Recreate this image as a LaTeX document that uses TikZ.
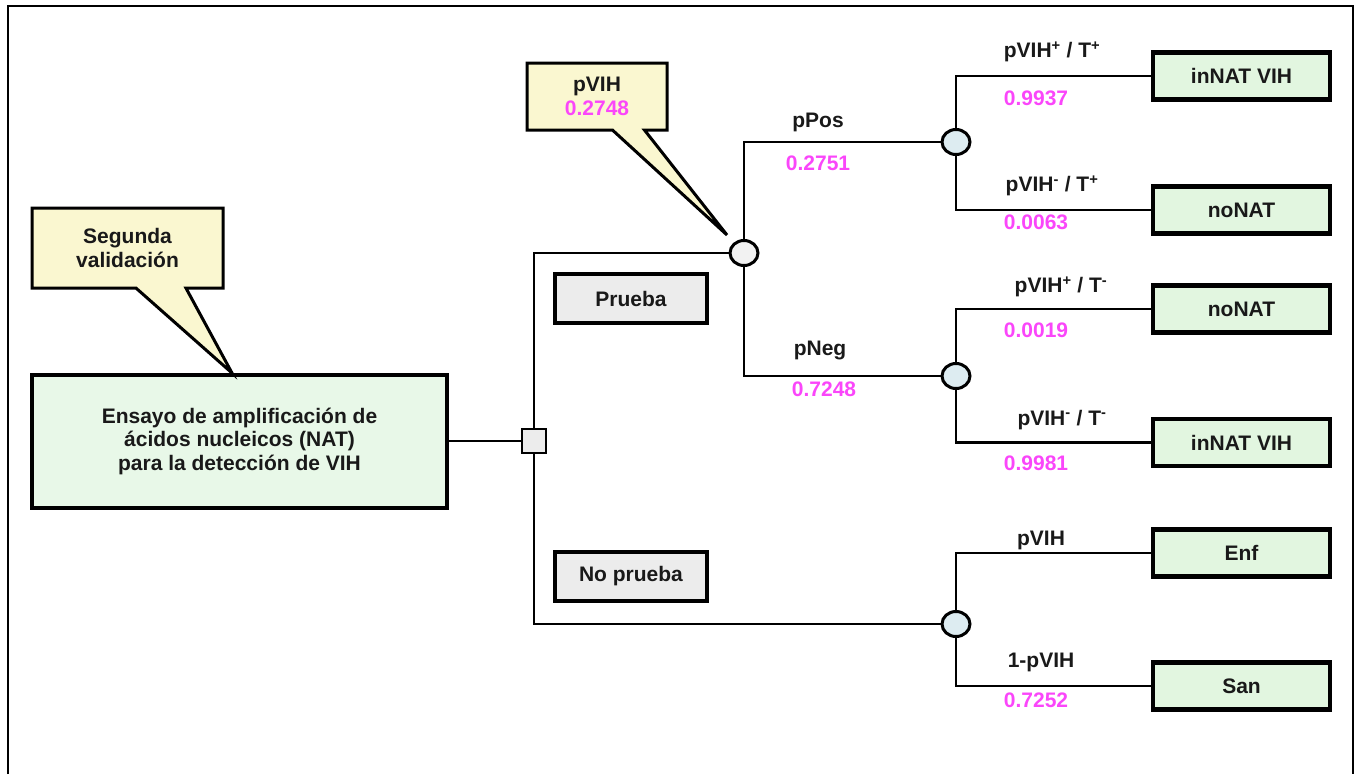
\documentclass[tikz,border=0pt]{standalone}
\usepackage{fontspec}
\setsansfont{Liberation Sans}
\usetikzlibrary{shapes.geometric,shapes.callouts}
\definecolor{probpink}{RGB}{250,70,250}
\definecolor{notefill}{RGB}{250,247,208}
\definecolor{mainfill}{RGB}{232,248,232}
\definecolor{outfill}{RGB}{226,246,224}
\definecolor{optfill}{RGB}{236,236,236}
\definecolor{chancefill}{RGB}{221,236,241}
\begin{document}
\begin{tikzpicture}[x=1pt, y=-1pt,
    every node/.style={font=\sffamily\bfseries\fontsize{21}{23.5}\selectfont, text=black!90},
    mainbox/.style={draw, line width=4pt, fill=mainfill, align=center, minimum width=415pt, minimum height=133pt},
    outbox/.style={draw, line width=4.5pt, fill=outfill, minimum width=177pt, minimum height=47pt},
    optbox/.style={draw, line width=4pt, fill=optfill, minimum width=152pt, minimum height=49pt},
    chance/.style={draw, ellipse, line width=3pt, fill=chancefill, minimum width=28pt, minimum height=25pt, inner sep=0pt},
    decision/.style={draw, rectangle, line width=2.5pt, fill=optfill, minimum size=24pt, inner sep=0pt},
    note/.style={draw, rectangle callout, line width=3pt, fill=notefill, align=center},
    lbl/.style={inner sep=0pt},
    prob/.style={inner sep=0pt, text=probpink},
    branch/.style={line width=2.7pt}]
    \useasboundingbox (0,0) rectangle (1357,774);
    % frame
    \draw[line width=2pt] (8,774) -- (8,6) -- (1353,6) -- (1353,774);

    % Nodes
    \node (ensayo) [mainbox] at (239.5,441) {Ensayo de amplificación de\\ácidos nucleicos (NAT)\\para la detección de VIH};
    \node (dec) [decision] at (534,441) {};
    \node (c1) [chance, fill=optfill!70!white] at (744,253) {};
    \node (c2) [chance] at (956,142) {};
    \node (c3) [chance] at (956,376) {};
    \node (c4) [chance] at (956,624) {};
    \node (o1) [outbox] at (1241.5,76) {inNAT VIH};
    \node (o2) [outbox] at (1241.5,210) {noNAT};
    \node (o3) [outbox] at (1241.5,309) {noNAT};
    \node (o4) [outbox] at (1241.5,442.5) {inNAT VIH};
    \node (o5) [outbox] at (1241.5,553) {Enf};
    \node (o6) [outbox] at (1241.5,686) {San};
    \node (prueba) [optbox] at (631,298.5) {Prueba};
    \node (noprueba) [optbox] at (631,576.5) {No prueba};
    \node (segunda) [note, minimum width=191pt, minimum height=80pt, callout pointer width=50pt, callout absolute pointer={(232,373)}] at (127.5,248) {Segunda\\validación};
    \node (pvihnote) [note, minimum width=140pt, minimum height=67pt, callout pointer width=32pt, callout absolute pointer={(727,235)}] at (597,96.5) {pVIH\\\textcolor{probpink}{0.2748}};

    % Connectors
    \draw [branch] (ensayo.east) -- (dec.west);
    \draw [branch] (dec.north) |- (c1.west);
    \draw [branch] (dec.south) |- (c4.west);
    \draw [branch] (c1.north) |- (c2.west);
    \draw [branch] (c1.south) |- (c3.west);
    \draw [branch] (c2.north) |- (o1.west);
    \draw [branch] (c2.south) |- (o2.west);
    \draw [branch] (c3.north) |- (o3.west);
    \draw [branch] (c3.south) |- (o4.west);
    \draw [branch] (c4.north) |- (o5.west);
    \draw [branch] (c4.south) |- (o6.west);

    % Labels
    \node (lpos) [lbl] at (818,122) {pPos};
    \node (ppos) [prob] at (818,163) {0.2751};
    \node (lneg) [lbl] at (820,350) {pNeg};
    \node (pneg) [prob] at (824,389) {0.7248};
    \node (l1) [lbl] at (1052,52) {pVIH\textsuperscript{+} / T\textsuperscript{+}};
    \node (p1) [prob] at (1036,98) {0.9937};
    \node (l2) [lbl] at (1052,186) {pVIH\textsuperscript{-} / T\textsuperscript{+}};
    \node (p2) [prob] at (1036,222) {0.0063};
    \node (l3) [lbl] at (1061,287) {pVIH\textsuperscript{+} / T\textsuperscript{-}};
    \node (p3) [prob] at (1036,330) {0.0019};
    \node (l4) [lbl] at (1062,420) {pVIH\textsuperscript{-} / T\textsuperscript{-}};
    \node (p4) [prob] at (1036,463) {0.9981};
    \node (l5) [lbl] at (1041,540) {pVIH};
    \node (l6) [lbl] at (1041,662) {1-pVIH};
    \node (p6) [prob] at (1036,700) {0.7252};
\end{tikzpicture}
\end{document}
